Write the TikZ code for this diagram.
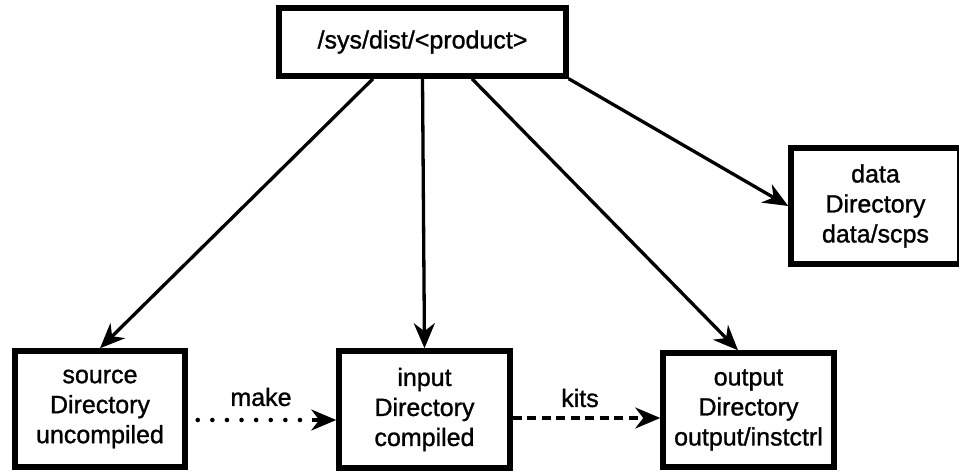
\documentclass[tikz,border=0pt]{standalone}
\usepackage{fontspec}
\setmainfont{Liberation Sans}[FakeBold=1.1]
\usetikzlibrary{arrows.meta,calc}
\tikzset{
  dirbox/.style={draw, line width=5.5pt, inner sep=0pt, align=center,
    font=\fontsize{25}{30}\selectfont},
  tip/.style={-{Stealth[length=25pt,width=21pt,inset=8pt]}},
  arr/.style={line width=3.3pt, tip},
  lbl/.style={font=\fontsize{25}{30}\selectfont, inner sep=0pt},
  dotline/.style={line width=4.6pt, line cap=round, dash pattern=on 0pt off 14.6pt},
  dashline/.style={line width=3.5pt, dash pattern=on 9pt off 5.5pt}
}
\begin{document}
\begin{tikzpicture}[x=1pt,y=-1pt]
\clip (0,0) rectangle (959,473);
\fill[white] (0,0) rectangle (959,473);

\node[dirbox, minimum width=287pt, minimum height=68pt] (top) at (422.5,42) {/sys/dist/<product>};
\node[dirbox, minimum width=170pt, minimum height=116pt] (src) at (100,409) {source\\Directory\\uncompiled};
\node[dirbox, minimum width=171pt, minimum height=117pt] (inp) at (424.5,409.5) {input\\Directory\\compiled};
\node[dirbox, minimum width=171pt, minimum height=114pt] (out) at (748.5,410) {output\\Directory\\output/instctrl};
\node[dirbox, minimum width=169pt, minimum height=116pt] (dat) at (875.5,206) {data\\Directory\\data/scps};

\coordinate (t1) at ($(top.south)+(-49.5,0)$);
\coordinate (t3) at ($(top.south)+(49.5,0)$);
\coordinate (o1) at ($(out.north)+(-10.5,0)$);

\draw[arr] (t1) -- (src.north);
\draw[arr] (top.south) -- (inp.north);
\draw[arr] (t3) -- (o1);
\draw[arr] (top.south east) -- (dat.west);

\coordinate (m1) at ($(src.east)+(10,11)$);
\coordinate (m2) at ($(inp.west |- m1)+(-24,0)$);
\draw[dotline] (m1) -- (m2);
\draw[arr] (m2) -- (inp.west |- m1);
\node[lbl] (make) at (261,397) {make};

\coordinate (k1) at ($(inp.east)+(0,8.5)$);
\draw[dashline, tip] (k1) -- (out.west |- k1);
\node[lbl] (kits) at (580,398) {kits};
\end{tikzpicture}
\end{document}
